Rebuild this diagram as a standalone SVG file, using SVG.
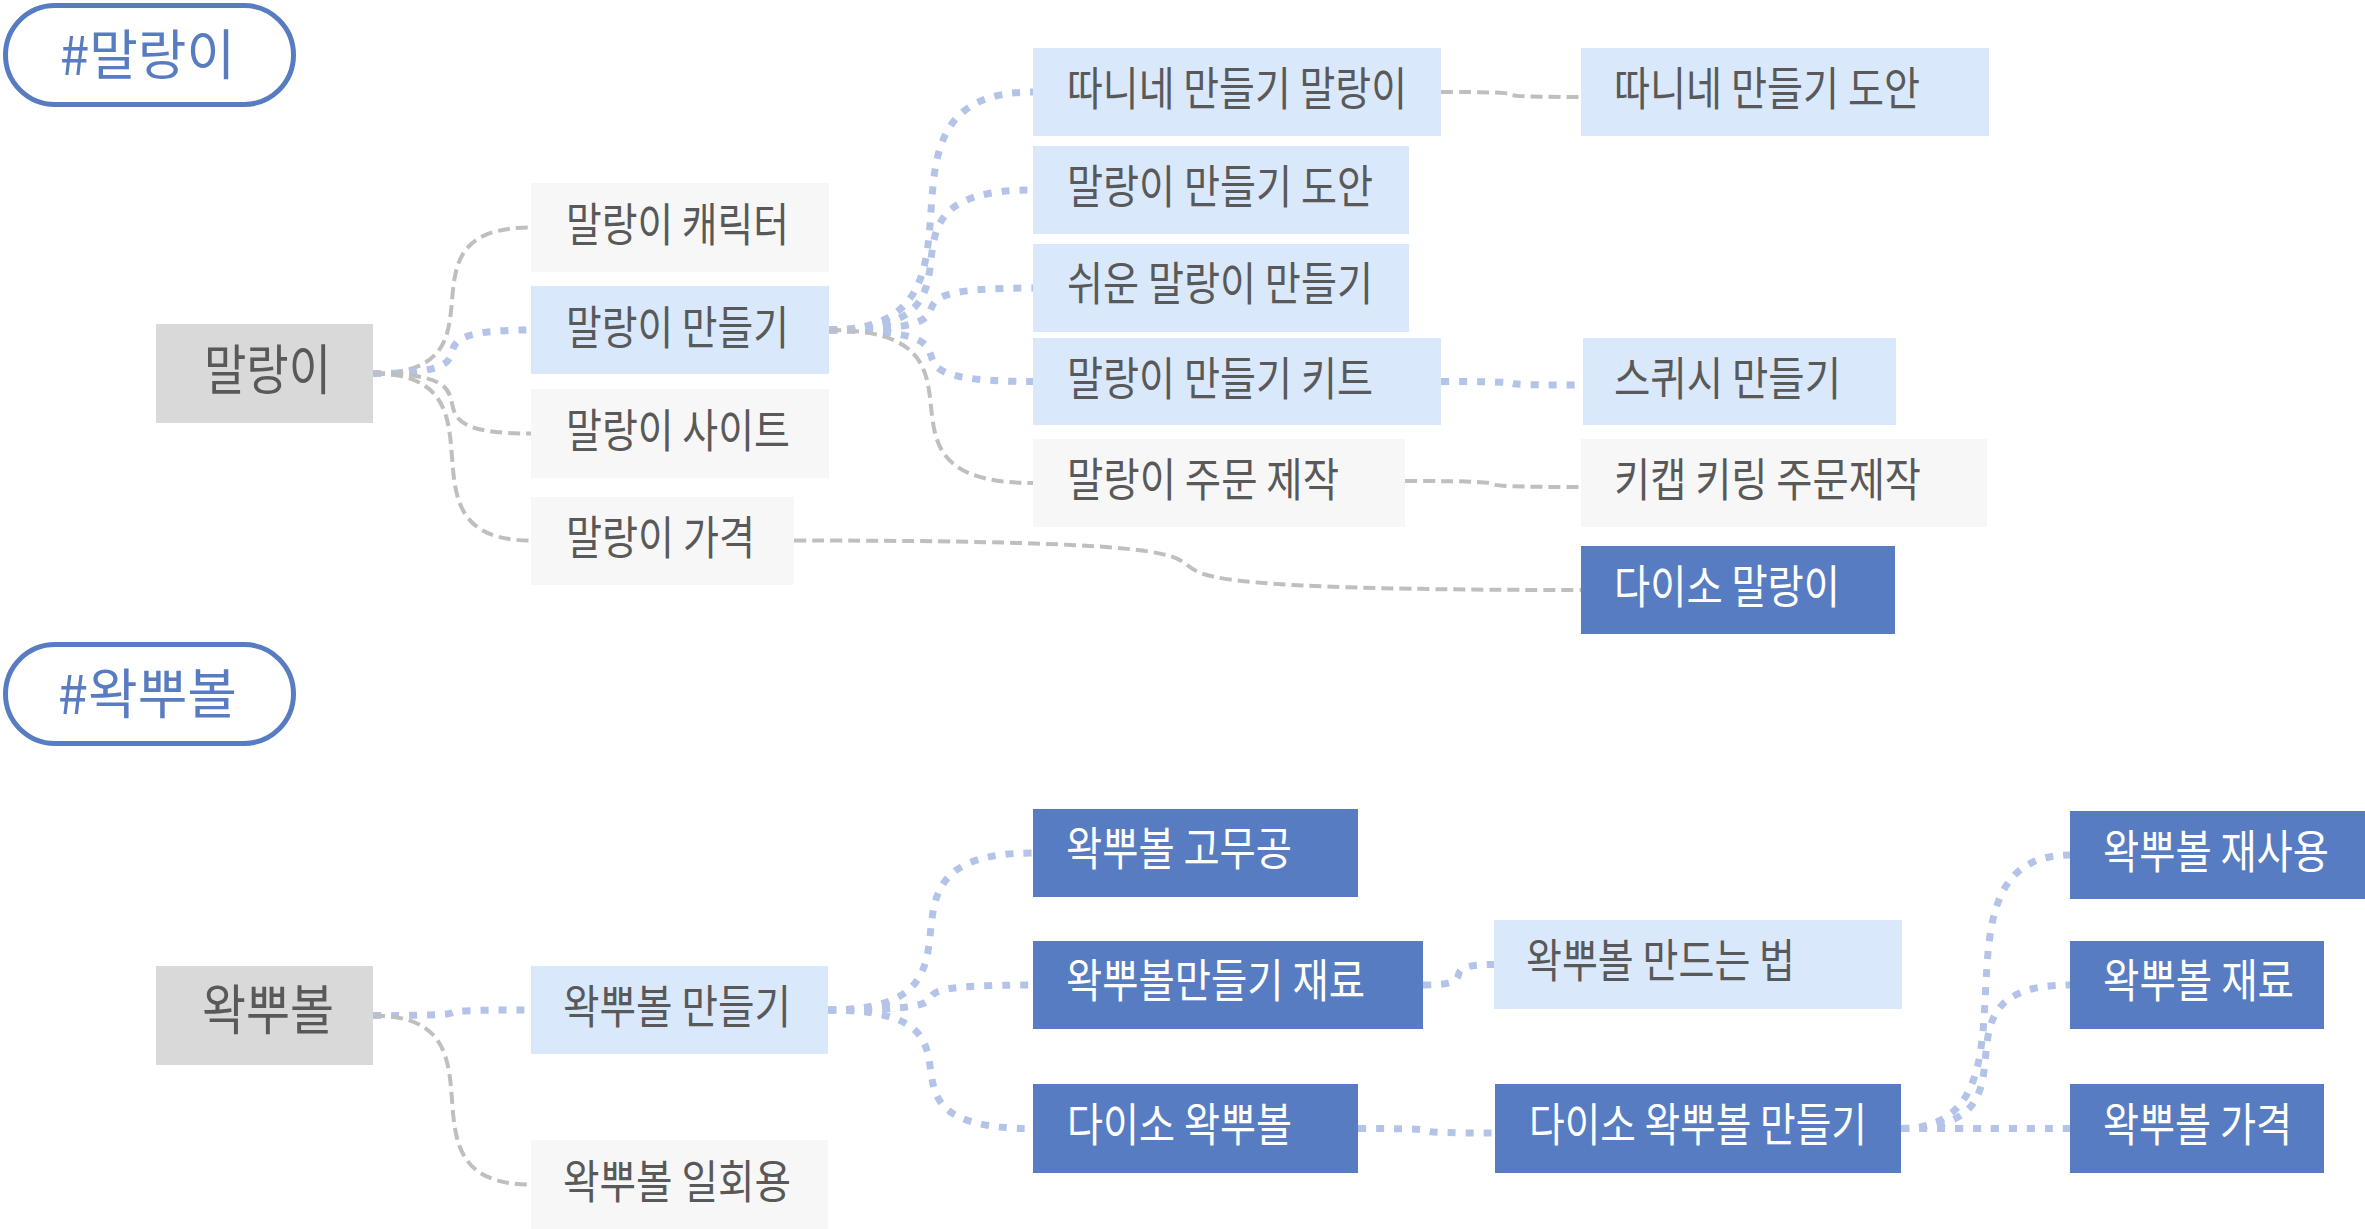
<svg xmlns="http://www.w3.org/2000/svg" width="2365" height="1229" viewBox="0 0 2365 1229">
<style>
text{font-family:"Noto Sans CJK KR","Noto Sans",sans-serif;font-size:46px;fill:#595959;}
.big{font-size:54px;}
.tag{font-size:54px;fill:#587cc2;}
.w{fill:#ffffff;}
.pill{fill:#ffffff;stroke:#587cc2;stroke-width:5;}
.root{fill:#d9d9d9;}
.lb{fill:#dae8fc;}
.gr{fill:#f7f7f7;}
.db{fill:#587cc2;}
.dash{fill:none;stroke:#bfbfbf;stroke-width:4;stroke-dasharray:12 6;}
.dot{fill:none;stroke:#b4c3e8;stroke-width:7;stroke-dasharray:8 10;}
</style>
<rect width="2365" height="1229" fill="#ffffff"/>
<g id="connectors">
<path class="dash" d="M373 373.5 C518.4 373.5 385.6 227.5 531 227.5"/>
<path class="dot" d="M373 373.5 C518.4 373.5 385.6 330 531 330"/>
<path class="dash" d="M373 373.5 C518.4 373.5 385.6 433.5 531 433.5"/>
<path class="dash" d="M373 373.5 C518.4 373.5 385.6 540.5 531 540.5"/>
<path class="dot" d="M829 330 C1016.7 330 845.3 92 1033 92"/>
<path class="dot" d="M829 330 C1016.7 330 845.3 190 1033 190"/>
<path class="dot" d="M829 330 C1016.7 330 845.3 288 1033 288"/>
<path class="dot" d="M829 330 C1016.7 330 845.3 381.5 1033 381.5"/>
<path class="dash" d="M829 330 C1016.7 330 845.3 483 1033 483"/>
<path class="dash" d="M1441 92 C1569.8 92 1452.2 97 1581 97"/>
<path class="dot" d="M1441 381.5 C1571.6 381.5 1452.4 385 1583 385"/>
<path class="dash" d="M1405 481 C1566.9 481 1419.1 487 1581 487"/>
<path class="dash" d="M794 540.5 C1518 540.5 857 590 1581 590"/>
<path class="dot" d="M373 1015.5 C518.4 1015.5 385.6 1010 531 1010"/>
<path class="dash" d="M373 1015.5 C518.4 1015.5 385.6 1184.5 531 1184.5"/>
<path class="dot" d="M828 1010 C1016.6 1010 844.4 853 1033 853"/>
<path class="dot" d="M828 1010 C1016.6 1010 844.4 985 1033 985"/>
<path class="dot" d="M828 1010 C1016.6 1010 844.4 1128.5 1033 1128.5"/>
<path class="dot" d="M1423 985 C1488.3 985 1428.7 964.5 1494 964.5"/>
<path class="dot" d="M1358 1128.5 C1484 1128.5 1369 1133 1495 1133"/>
<path class="dot" d="M1901 1128.5 C2056.5 1128.5 1914.5 855 2070 855"/>
<path class="dot" d="M1901 1128.5 C2056.5 1128.5 1914.5 985 2070 985"/>
<path class="dot" d="M1901 1128.5 C2056.5 1128.5 1914.5 1128.5 2070 1128.5"/>
</g>
<g id="tag-malang"><rect class="pill" x="5.5" y="5.5" width="288" height="99" rx="49.5"/><text class="tag" x="60" y="74.5" textLength="175" lengthAdjust="spacingAndGlyphs">#말랑이</text></g>
<g id="root-malang"><rect class="root" x="156" y="324" width="217" height="99"/><text class="big" x="204" y="389.5" textLength="127" lengthAdjust="spacingAndGlyphs">말랑이</text></g>
<g id="n-character"><rect class="gr" x="531" y="183" width="298" height="89"/><text x="566" y="240.5" textLength="223" lengthAdjust="spacingAndGlyphs">말랑이 캐릭터</text></g>
<g id="n-make"><rect class="lb" x="531" y="286" width="298" height="88"/><text x="566" y="343.5" textLength="223" lengthAdjust="spacingAndGlyphs">말랑이 만들기</text></g>
<g id="n-site"><rect class="gr" x="531" y="389" width="298" height="89"/><text x="566" y="446.5" textLength="224" lengthAdjust="spacingAndGlyphs">말랑이 사이트</text></g>
<g id="n-price"><rect class="gr" x="531" y="497" width="263" height="88"/><text x="566" y="553.5" textLength="189" lengthAdjust="spacingAndGlyphs">말랑이 가격</text></g>
<g id="n-ttani"><rect class="lb" x="1033" y="48" width="408" height="88"/><text x="1067" y="105" textLength="340" lengthAdjust="spacingAndGlyphs">따니네 만들기 말랑이</text></g>
<g id="n-pattern"><rect class="lb" x="1033" y="146" width="376" height="88"/><text x="1067" y="203" textLength="306" lengthAdjust="spacingAndGlyphs">말랑이 만들기 도안</text></g>
<g id="n-easy"><rect class="lb" x="1033" y="244" width="376" height="88"/><text x="1067" y="300" textLength="306" lengthAdjust="spacingAndGlyphs">쉬운 말랑이 만들기</text></g>
<g id="n-kit"><rect class="lb" x="1033" y="338" width="408" height="87"/><text x="1067" y="395" textLength="306" lengthAdjust="spacingAndGlyphs">말랑이 만들기 키트</text></g>
<g id="n-order"><rect class="gr" x="1033" y="439" width="372" height="88"/><text x="1067" y="496" textLength="272" lengthAdjust="spacingAndGlyphs">말랑이 주문 제작</text></g>
<g id="n-ttani-pattern"><rect class="lb" x="1581" y="48" width="408" height="88"/><text x="1614" y="105" textLength="306" lengthAdjust="spacingAndGlyphs">따니네 만들기 도안</text></g>
<g id="n-squishy"><rect class="lb" x="1583" y="338" width="313" height="87"/><text x="1614" y="395" textLength="227" lengthAdjust="spacingAndGlyphs">스퀴시 만들기</text></g>
<g id="n-keycap"><rect class="gr" x="1581" y="439" width="406" height="88"/><text x="1614" y="496" textLength="307" lengthAdjust="spacingAndGlyphs">키캡 키링 주문제작</text></g>
<g id="n-daiso-malang"><rect class="db" x="1581" y="546" width="314" height="88"/><text class="w" x="1614" y="603" textLength="226" lengthAdjust="spacingAndGlyphs">다이소 말랑이</text></g>
<g id="tag-wak"><rect class="pill" x="5.5" y="644.5" width="288" height="99" rx="49.5"/><text class="tag" x="58" y="713.5" textLength="179" lengthAdjust="spacingAndGlyphs">#왁뿌볼</text></g>
<g id="root-wak"><rect class="root" x="156" y="966" width="217" height="99"/><text class="big" x="202" y="1030" textLength="132" lengthAdjust="spacingAndGlyphs">왁뿌볼</text></g>
<g id="w-make"><rect class="lb" x="531" y="966" width="297" height="88"/><text x="563" y="1022.5" textLength="228" lengthAdjust="spacingAndGlyphs">왁뿌볼 만들기</text></g>
<g id="w-disposable"><rect class="gr" x="531" y="1140" width="297" height="89"/><text x="563" y="1197.5" textLength="228" lengthAdjust="spacingAndGlyphs">왁뿌볼 일회용</text></g>
<g id="w-rubber"><rect class="db" x="1033" y="809" width="325" height="88"/><text class="w" x="1066" y="865" textLength="226" lengthAdjust="spacingAndGlyphs">왁뿌볼 고무공</text></g>
<g id="w-material"><rect class="db" x="1033" y="941" width="390" height="88"/><text class="w" x="1066" y="997" textLength="299" lengthAdjust="spacingAndGlyphs">왁뿌볼만들기 재료</text></g>
<g id="w-daiso"><rect class="db" x="1033" y="1084" width="325" height="89"/><text class="w" x="1067" y="1141" textLength="225" lengthAdjust="spacingAndGlyphs">다이소 왁뿌볼</text></g>
<g id="w-howto"><rect class="lb" x="1494" y="920" width="408" height="89"/><text x="1526" y="977" textLength="269" lengthAdjust="spacingAndGlyphs">왁뿌볼 만드는 법</text></g>
<g id="w-daiso-make"><rect class="db" x="1495" y="1084" width="406" height="89"/><text class="w" x="1529" y="1141" textLength="338" lengthAdjust="spacingAndGlyphs">다이소 왁뿌볼 만들기</text></g>
<g id="w-reuse"><rect class="db" x="2070" y="811" width="295" height="88"/><text class="w" x="2103" y="867.5" textLength="226" lengthAdjust="spacingAndGlyphs">왁뿌볼 재사용</text></g>
<g id="w-material2"><rect class="db" x="2070" y="941" width="254" height="88"/><text class="w" x="2103" y="997" textLength="191" lengthAdjust="spacingAndGlyphs">왁뿌볼 재료</text></g>
<g id="w-price"><rect class="db" x="2070" y="1084" width="254" height="89"/><text class="w" x="2103" y="1141" textLength="189" lengthAdjust="spacingAndGlyphs">왁뿌볼 가격</text></g>
</svg>
